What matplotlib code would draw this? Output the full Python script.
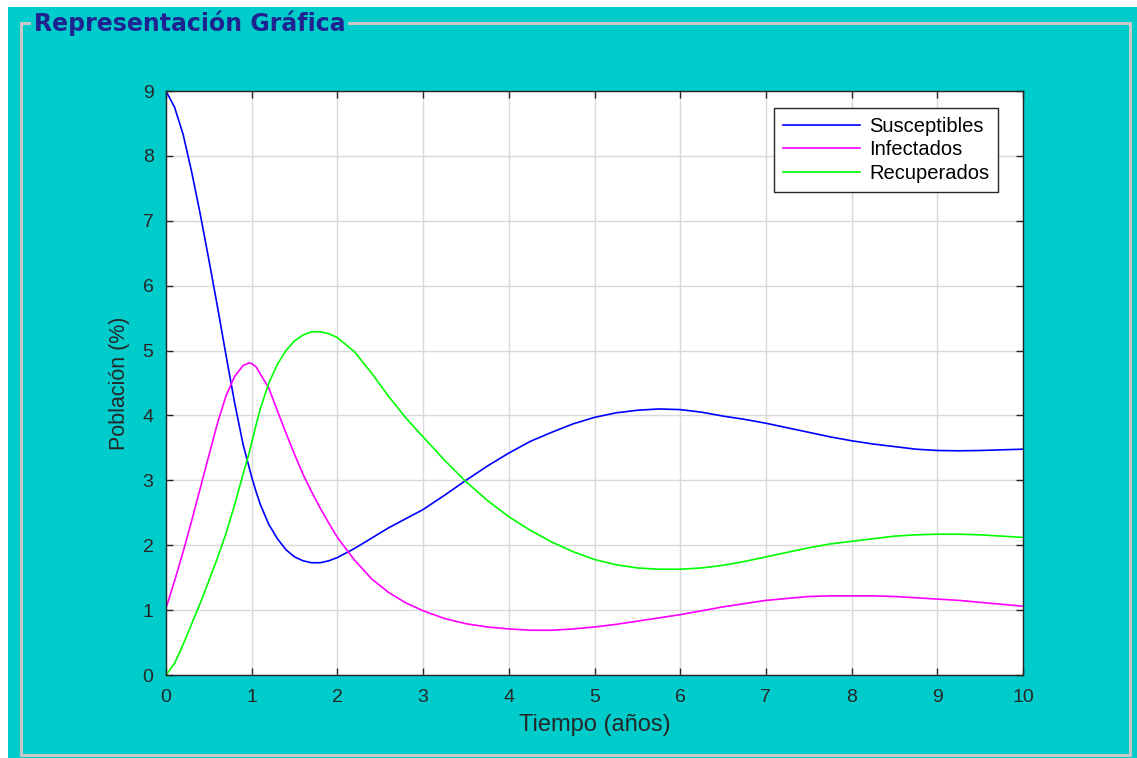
import matplotlib.pyplot as plt
from matplotlib.patches import Rectangle

plt.rcParams['font.family'] = ['Liberation Sans', 'DejaVu Sans']

# tiempo (años) y poblaciones
t = [0, 0.1, 0.2, 0.3, 0.4, 0.5, 0.6, 0.7, 0.8, 0.9, 0.97, 1.0, 1.05, 1.1, 1.2, 1.3, 1.4,
     1.5, 1.6, 1.7, 1.8, 1.9, 2.0, 2.2, 2.4, 2.6, 2.8, 3.0, 3.25, 3.5, 3.75, 4.0, 4.25,
     4.5, 4.75, 5.0, 5.25, 5.5, 5.75, 6.0, 6.25, 6.5, 6.75, 7.0, 7.25, 7.5, 7.75, 8.0,
     8.25, 8.5, 8.75, 9.0, 9.25, 9.5, 9.75, 10.0]

susceptibles = [9.0, 8.75, 8.33, 7.75, 7.1, 6.4, 5.68, 4.93, 4.2, 3.55, 3.2, 3.05, 2.83,
                2.63, 2.32, 2.1, 1.93, 1.82, 1.76, 1.73, 1.73, 1.76, 1.81, 1.95, 2.11,
                2.27, 2.41, 2.55, 2.77, 3.0, 3.22, 3.42, 3.6, 3.74, 3.87, 3.97, 4.04,
                4.08, 4.10, 4.09, 4.05, 3.99, 3.94, 3.88, 3.81, 3.74, 3.67, 3.61, 3.56,
                3.52, 3.48, 3.46, 3.455, 3.46, 3.47, 3.48]

infectados = [1.03, 1.45, 1.9, 2.38, 2.88, 3.38, 3.88, 4.3, 4.6, 4.77, 4.81, 4.8, 4.75,
              4.64, 4.42, 4.07, 3.73, 3.40, 3.09, 2.82, 2.57, 2.34, 2.12, 1.77, 1.48,
              1.27, 1.11, 0.99, 0.87, 0.79, 0.74, 0.71, 0.69, 0.69, 0.71, 0.74, 0.78,
              0.83, 0.88, 0.93, 0.99, 1.05, 1.1, 1.15, 1.18, 1.21, 1.22, 1.22, 1.22,
              1.21, 1.19, 1.17, 1.15, 1.12, 1.09, 1.06]

recuperados = [0.0, 0.18, 0.47, 0.79, 1.11, 1.45, 1.8, 2.18, 2.62, 3.1, 3.42, 3.58, 3.85,
               4.1, 4.5, 4.79, 5.0, 5.15, 5.24, 5.29, 5.29, 5.26, 5.2, 4.98, 4.65, 4.29,
               3.96, 3.67, 3.31, 2.98, 2.69, 2.44, 2.23, 2.05, 1.9, 1.78, 1.7, 1.65, 1.63,
               1.63, 1.65, 1.69, 1.75, 1.82, 1.89, 1.96, 2.02, 2.06, 2.1, 2.14, 2.16,
               2.17, 2.17, 2.16, 2.14, 2.12]

W, H = 1137, 758
fig = plt.figure(figsize=(W / 100, H / 100), dpi=100, facecolor='white')

teal = '#00cccc'
# fondo del panel
fig.patches.append(Rectangle((8 / W, 0), 1 - 8 / W, 1 - 7 / H, transform=fig.transFigure,
                             facecolor=teal, edgecolor='none', zorder=-3))
# borde del panel
fig.patches.append(Rectangle((21 / W, 1 - 755 / H), (1130 - 21) / W, (755 - 23) / H,
                             transform=fig.transFigure, facecolor='none',
                             edgecolor='#c8c8c8', lw=2.2, zorder=-2))
fig.text(34 / W, 1 - 23 / H, 'Representación Gráfica', fontsize=17, fontweight='bold',
         family=['DejaVu Sans'], color='#1f2390', va='center', ha='left',
         bbox=dict(facecolor=teal, edgecolor='none', pad=2))

ax = fig.add_axes([166 / W, 1 - 675 / H, (1023 - 166) / W, (675 - 91) / H])
ax.set_facecolor('white')

ax.plot(t, susceptibles, color='#0000ff', lw=1.2, label='Susceptibles')
ax.plot(t, infectados, color='#ff00ff', lw=1.2, label='Infectados')
ax.plot(t, recuperados, color='#00ff00', lw=1.2, label='Recuperados')

ax.set_xlim(0, 10)
ax.set_ylim(0, 9)
ax.set_xticks(range(0, 11))
ax.set_yticks(range(0, 10))
ax.grid(True, color='#d9d9d9', lw=1)
ax.tick_params(direction='in', top=True, right=True, length=5, width=1,
               labelsize=14, labelcolor='#262626', color='#262626')
ax.tick_params(axis='x', pad=10)
ax.tick_params(axis='y', pad=9)
for s in ax.spines.values():
    s.set_color('#262626')
    s.set_linewidth(1)

ax.set_xlabel('Tiempo (años)', fontsize=17, color='#262626', labelpad=6)
ax.set_ylabel('Población (%)', fontsize=15.5, color='#262626', labelpad=9)

leg = ax.legend(loc='upper right', bbox_to_anchor=(0.971, 0.971), borderaxespad=0,
                fontsize=14.5, fancybox=False, framealpha=1, edgecolor='#262626',
                handlelength=3.8, handletextpad=0.45, labelspacing=0.22, borderpad=0.45)
leg.get_frame().set_linewidth(1)

fig.savefig('out.png', dpi=100, facecolor=fig.get_facecolor())
